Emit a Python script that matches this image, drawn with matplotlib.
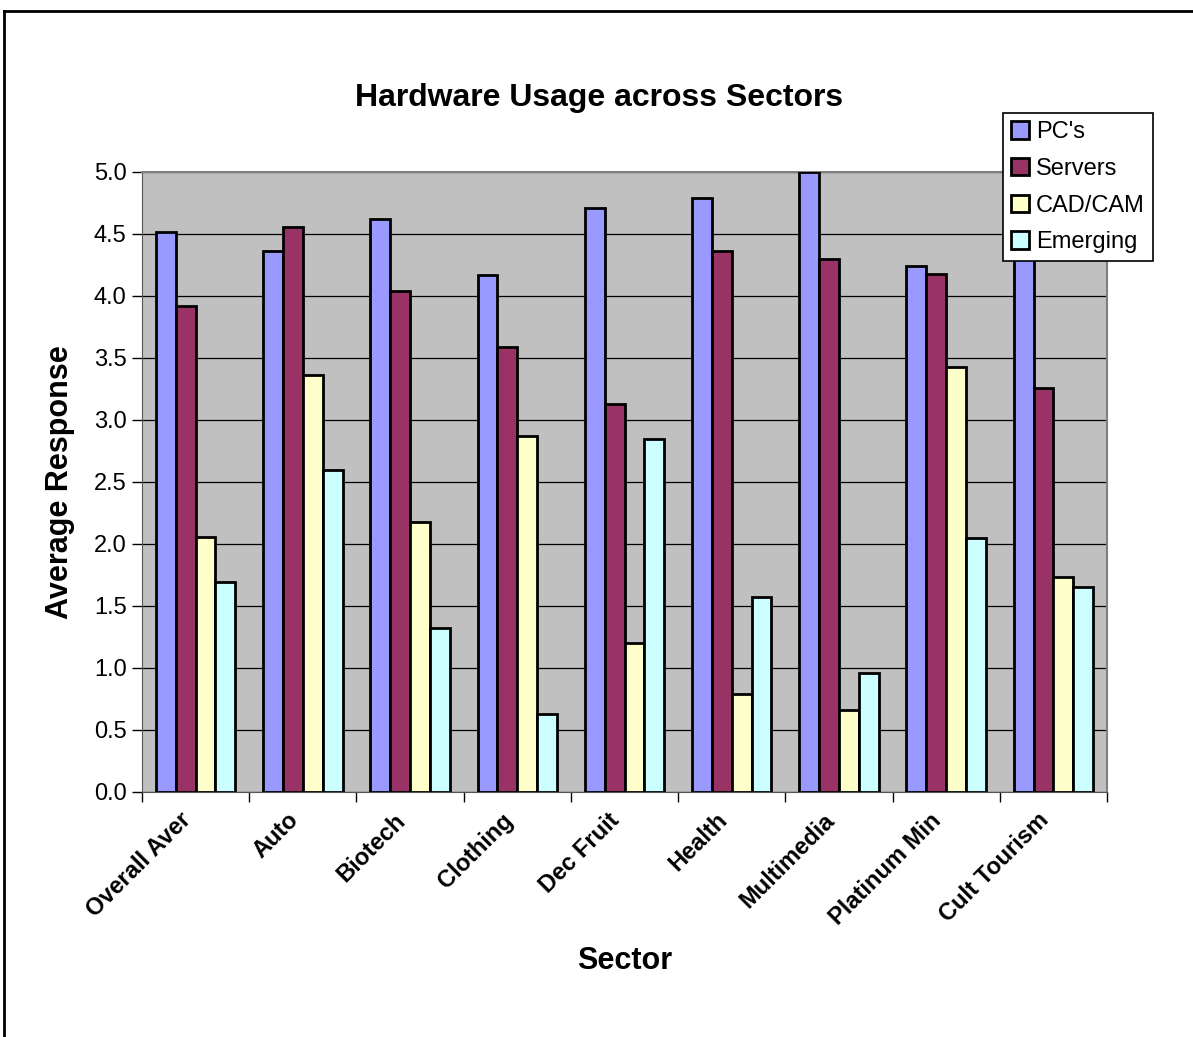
import numpy as np
import matplotlib.pyplot as plt
from matplotlib.lines import Line2D

plt.rcParams['font.family'] = ['Liberation Sans', 'DejaVu Sans']

sectors = ["Overall Aver", "Auto", "Biotech", "Clothing", "Dec Fruit",
           "Health", "Multimedia", "Platinum Min", "Cult Tourism"]
pcs      = [4.52, 4.36, 4.62, 4.17, 4.71, 4.79, 5.00, 4.24, 4.60]
servers  = [3.92, 4.56, 4.04, 3.59, 3.13, 4.36, 4.30, 4.18, 3.26]
cad_cam  = [2.06, 3.36, 2.18, 2.87, 1.20, 0.79, 0.66, 3.43, 1.73]
emerging = [1.69, 2.60, 1.32, 0.63, 2.85, 1.57, 0.96, 2.05, 1.65]

series = [("PC's", pcs, "#9999FF"),
          ("Servers", servers, "#993366"),
          ("CAD/CAM", cad_cam, "#FFFFCC"),
          ("Emerging", emerging, "#CCFFFF")]

W, H = 1193, 1037
fig = plt.figure(figsize=(W / 100, H / 100), dpi=100)
ax = fig.add_axes([142 / W, 1 - 792 / H, (1107 - 142) / W, (792 - 172) / H])
ax.set_facecolor("#C0C0C0")

x = np.arange(len(sectors))
bw = 0.185
for i, (name, vals, col) in enumerate(series):
    ax.bar(x + (i - 1.5) * bw, vals, width=bw, color=col, edgecolor="black",
           linewidth=2.0, label=name, zorder=3)

ax.set_xlim(-0.5, len(sectors) - 0.5)
ax.set_ylim(0, 5)
ax.set_yticks(np.arange(0, 5.01, 0.5))
ax.set_yticklabels([f"{v:.1f}" for v in np.arange(0, 5.01, 0.5)], fontsize=17)
ax.yaxis.grid(True, color="black", linewidth=0.9, zorder=0)
ax.set_axisbelow(True)

# ticks between categories, labels at the centres
ax.set_xticks(np.arange(-0.5, len(sectors)), labels=[""] * (len(sectors) + 1))
ax.set_xticks(x, minor=True)
ax.set_xticklabels(sectors, minor=True, rotation=45, ha="right", va="top",
                   fontsize=17, fontweight="bold")
ax.tick_params(axis="x", which="minor", length=0, pad=12)
ax.tick_params(axis="x", which="major", length=7, width=1, direction="out")
ax.tick_params(axis="y", length=7, width=1, direction="out", pad=4)

for s in ["top", "right"]:
    ax.spines[s].set_color("#808080")
    ax.spines[s].set_linewidth(1.5)
ax.spines["left"].set_color("#555555")
ax.spines["bottom"].set_color("#555555")

ax.set_ylabel("Average Response", fontsize=22, fontweight="bold", labelpad=14)
ax.set_xlabel("Sector", fontsize=22, fontweight="bold", labelpad=12)
fig.text(599 / W, 1 - 98 / H, "Hardware Usage across Sectors", fontsize=23,
         fontweight="bold", ha="center", va="center")

leg = fig.legend(loc="upper left", bbox_to_anchor=(1003 / W, 1 - 113 / H),
                 fontsize=17, frameon=True, fancybox=False, edgecolor="black",
                 framealpha=1, handlelength=0.75, handleheight=0.75,
                 handletextpad=0.3, borderpad=0.35, labelspacing=0.62,
                 borderaxespad=0)
leg.get_frame().set_linewidth(1.2)

# chart area border
fig.add_artist(Line2D([4 / W, 1], [1 - 11 / H, 1 - 11 / H], color="black", linewidth=2))
fig.add_artist(Line2D([4 / W, 4 / W], [1 - 11 / H, 0], color="black", linewidth=2))

fig.savefig("out.png", dpi=100)
